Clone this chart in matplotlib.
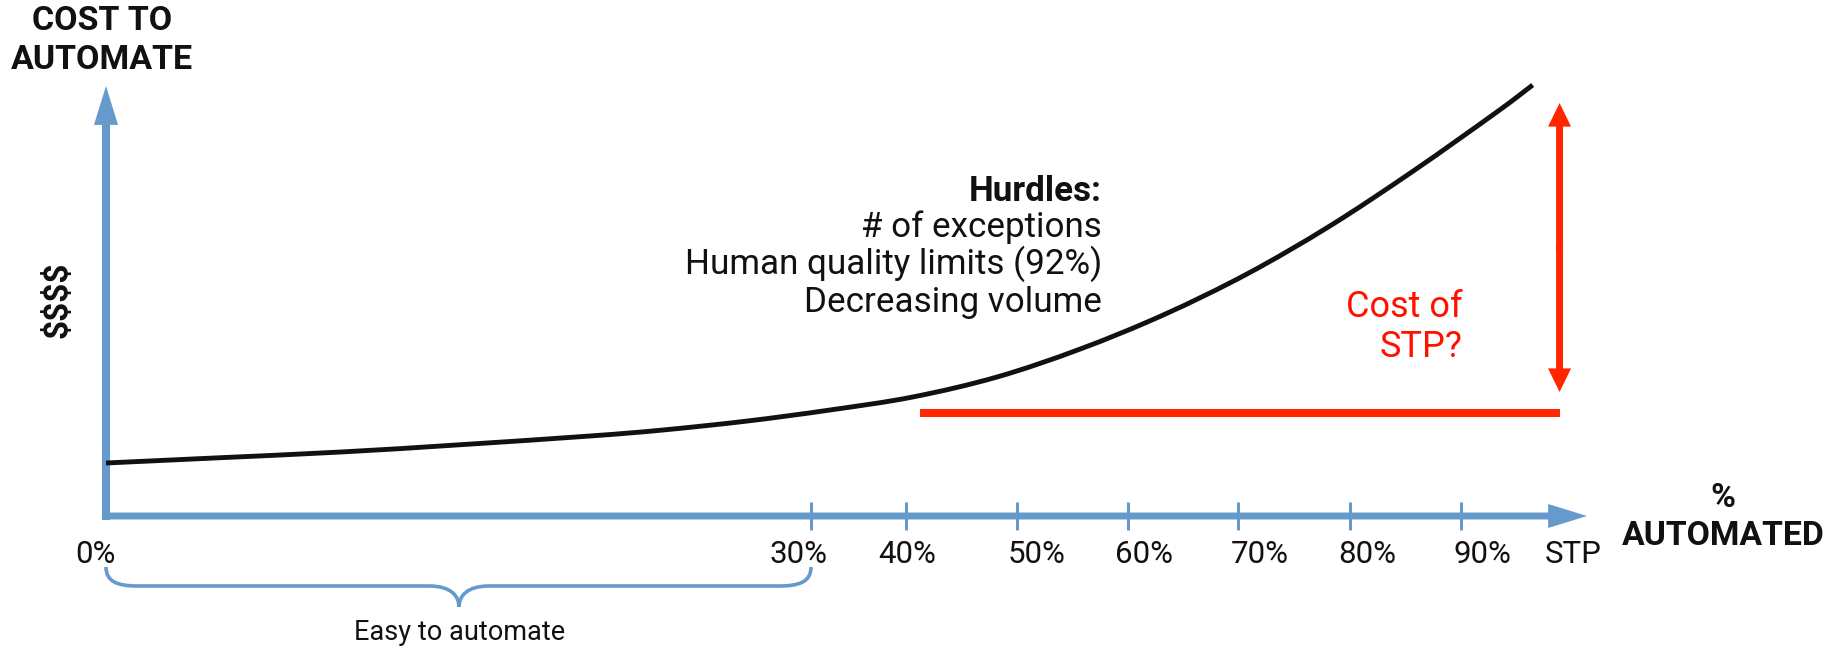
import numpy as np
import matplotlib
matplotlib.use('Agg')
import matplotlib.pyplot as plt
from matplotlib.path import Path
from matplotlib.patches import PathPatch, FancyArrowPatch
from matplotlib.transforms import Affine2D

plt.rcParams['font.family'] = ['Roboto', 'DejaVu Sans']

# ---------------- data ----------------
tick_values = [0, 30, 40, 50, 60, 70, 80, 90, 100]
tick_labels = ['0%', '30%', '40%', '50%', '60%', '70%', '80%', '90%', 'STP']

curve_pct = [0, 4.6, 10.0, 14.9, 20.6, 23.7, 27.3, 32.0, 40.6, 48.2,
             55.7, 63.2, 70.8, 78.2, 85.7, 93.2, 96.4]
curve_cost = [53, 58, 64, 71, 80, 86, 95, 106, 119, 139,
              167, 201, 242, 290, 345, 404, 431]

stp_floor_pct = [41.3, 98.8]
stp_floor_cost = 103
stp_gap_cost = [124, 413]

hurdles_title = 'Hurdles:'
hurdles = ['# of exceptions', 'Human quality limits (92%)', 'Decreasing volume']
easy_range = [0, 30]

# ---------------- layout / style ----------------
W, H, DPI = 1840, 648, 100
AXIS_PX = [106, 811, 906, 1017, 1128, 1238, 1350, 1461, 1573]   # canvas x of tick values
AXIS_Y_PX = 516
LABEL_DX = [-11, -12, 1, 20, 16, 22, 17, 21, 0]
BLUE = '#6699CC'
RED_LINE = '#FF2600'
RED_TEXT = '#FF1100'
INK = '#111111'

P = np.array(tick_values, float)
X = np.array(AXIS_PX, float)


def fwd(v):
    v = np.asarray(v, float)
    out = np.interp(v, P, X)
    out = np.where(v < P[0], X[0] + (v - P[0]) * (X[1] - X[0]) / (P[1] - P[0]), out)
    out = np.where(v > P[-1], X[-1] + (v - P[-1]) * (X[-1] - X[-2]) / (P[-1] - P[-2]), out)
    return out


def inv(u):
    u = np.asarray(u, float)
    out = np.interp(u, X, P)
    out = np.where(u < X[0], P[0] + (u - X[0]) * (P[1] - P[0]) / (X[1] - X[0]), out)
    out = np.where(u > X[-1], P[-1] + (u - X[-1]) * (P[-1] - P[-2]) / (X[-1] - X[-2]), out)
    return out


fig = plt.figure(figsize=(W / DPI, H / DPI), dpi=DPI)
ax = fig.add_axes([0, 0, 1, 1])
ax.set_xscale('function', functions=(fwd, inv))
ax.set_xlim(float(inv(0)), float(inv(W)))
ax.set_ylim(AXIS_Y_PX - H, AXIS_Y_PX)
ax.axis('off')

PX = Affine2D().scale(1, -1).translate(0, H)  # top-left pixel coordinates


def arrow(a, b, color, tail, hl, hw, z=3):
    p = FancyArrowPatch(a, b, arrowstyle=f'simple,head_length={hl},head_width={hw},tail_width={tail}',
                        mutation_scale=1, lw=0, color=color, shrinkA=0, shrinkB=0, zorder=z)
    ax.add_patch(p)

# axes
arrow((0, -4), (0, AXIS_Y_PX - 86), BLUE, 5.8, 28, 17.3)
arrow((float(inv(102)), 0), (float(inv(1587)), 0), BLUE, 5.0, 28, 17.3)
ax.vlines(tick_values[1:-1], -14, 14, color=BLUE, lw=2.2, zorder=3)

# tick labels
for val, lab, dx in zip(tick_values, tick_labels, LABEL_DX):
    ax.annotate(lab, xy=(val, 0), xytext=(dx, -47), textcoords='offset pixels',
                ha='center', va='baseline', fontsize=22.5, color=INK)

# curve: smooth (Catmull-Rom -> cubic Bezier) through the read points
u = fwd(curve_pct)
c = np.array(curve_cost, float)
pts = np.column_stack([u, c])
n = len(pts)
verts = [tuple(pts[0])]
codes = [Path.MOVETO]
for i in range(n - 1):
    p0 = pts[max(i - 1, 0)]
    p1 = pts[i]
    p2 = pts[i + 1]
    p3 = pts[min(i + 2, n - 1)]
    c1 = p1 + (p2 - p0) / 6.0
    c2 = p2 - (p3 - p1) / 6.0
    verts += [tuple(c1), tuple(c2), tuple(p2)]
    codes += [Path.CURVE4] * 3
verts = np.array(verts)
verts[:, 0] = inv(verts[:, 0])
ax.add_patch(PathPatch(Path(verts, codes), fill=False, ec=INK, lw=3.5, capstyle='butt', zorder=4))

# STP floor and gap arrow
ax.plot(stp_floor_pct, [stp_floor_cost] * 2, color=RED_LINE, lw=5.8, solid_capstyle='butt', zorder=3)
mid = (stp_gap_cost[0] + stp_gap_cost[1]) / 2
arrow((stp_floor_pct[1], mid - 4), (stp_floor_pct[1], stp_gap_cost[1]), RED_LINE, 5.0, 17, 16.6)
arrow((stp_floor_pct[1], mid + 4), (stp_floor_pct[1], stp_gap_cost[0]), RED_LINE, 5.0, 17, 16.6)

# brace under "easy" range
x0, x1 = AXIS_PX[0], AXIS_PX[1]
xm = (x0 + x1) / 2 + 0.5
bverts = [(x0, 567), (x0, 582), (x0 + 12, 586), (x0 + 32, 586),
          (xm - 30, 586),
          (xm - 8, 586), (xm, 596), (xm, 607),
          (xm, 596), (xm + 8, 586), (xm + 30, 586),
          (x1 - 32, 586),
          (x1 - 12, 586), (x1, 582), (x1, 567)]
bcodes = [Path.MOVETO, Path.CURVE4, Path.CURVE4, Path.CURVE4,
          Path.LINETO,
          Path.CURVE4, Path.CURVE4, Path.CURVE4,
          Path.CURVE4, Path.CURVE4, Path.CURVE4,
          Path.LINETO,
          Path.CURVE4, Path.CURVE4, Path.CURVE4]
fig.add_artist(PathPatch(Path(bverts, bcodes), fill=False, ec=BLUE, lw=2.6, transform=PX))

# texts
fig.text(102, 30, 'COST TO', transform=PX, ha='center', va='baseline', fontsize=24.5, fontweight='bold', color=INK)
fig.text(102, 69, 'AUTOMATE', transform=PX, ha='center', va='baseline', fontsize=24.5, fontweight='bold', color=INK)
fig.text(57, 300, '$$$$', transform=PX, ha='center', va='center', rotation=90, fontsize=24, fontweight='bold',
         color=INK, parse_math=False)
fig.text(1723, 507, '%', transform=PX, ha='center', va='baseline', fontsize=24.3, fontweight='bold', color=INK)
fig.text(1723, 545, 'AUTOMATED', transform=PX, ha='center', va='baseline', fontsize=24.3, fontweight='bold', color=INK)

fig.text(1102, 201, hurdles_title, transform=PX, ha='right', va='baseline', fontsize=25.2, fontweight='bold', color=INK)
for i, line in enumerate(hurdles):
    fig.text(1102, [237, 274, 312][i], line, transform=PX, ha='right', va='baseline', fontsize=25.2, color=INK)

fig.text(1463, 317, 'Cost of', transform=PX, ha='right', va='baseline', fontsize=26, color=RED_TEXT)
fig.text(1463, 357, 'STP?', transform=PX, ha='right', va='baseline', fontsize=26, color=RED_TEXT)

fig.text(460, 640, 'Easy to automate', transform=PX, ha='center', va='baseline', fontsize=19.5, color=INK)

fig.savefig('out.png', dpi=DPI)
